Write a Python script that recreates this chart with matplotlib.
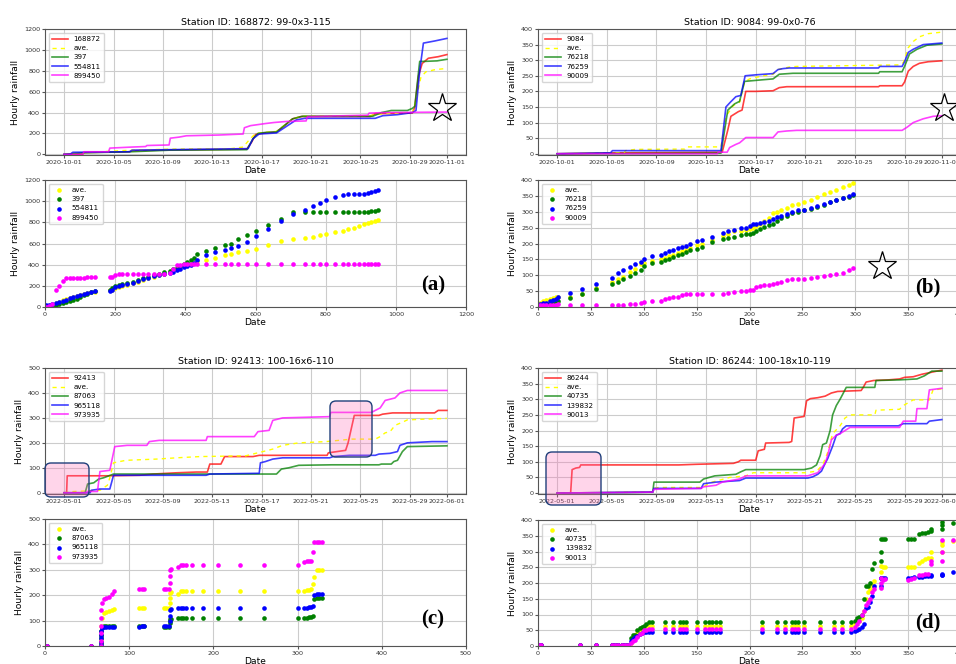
import matplotlib.pyplot as plt
import matplotlib.dates as mdates
from matplotlib.patches import FancyBboxPatch
from matplotlib.lines import Line2D
from matplotlib.transforms import IdentityTransform
import numpy as np
import pandas as pd

W, H = 956, 664

# ------------------------- (a) 168872, Oct 2020 -------------------------
a_days_168872 = [0, 1.5, 1.6, 5.3, 5.5, 8.5, 14.8, 15.2, 15.5, 16.2, 17.2, 17.8, 18.5, 19.2, 24.8, 25.2, 28.2, 28.4, 28.7, 29.0, 29.5, 30.3, 31]
a_vals_168872 = [0, 2, 18, 25, 35, 42, 50, 120, 190, 205, 215, 270, 340, 362, 362, 390, 395, 450, 750, 870, 920, 935, 955]
a_days_ave = [0, 1.5, 3.7, 5.4, 8.5, 13.5, 14.5, 15.0, 15.5, 16.2, 17.2, 18.5, 19.3, 24.7, 25.5, 28.2, 28.5, 28.9, 29.3, 30, 31]
a_vals_ave = [0, 15, 30, 40, 50, 55, 70, 140, 200, 210, 220, 340, 365, 370, 385, 400, 520, 740, 790, 810, 823]
a_days_397 = [0, 1.5, 5.4, 8.5, 14.8, 15.3, 15.7, 16.3, 17.2, 18.5, 19.3, 25.0, 25.7, 26.5, 27.8, 28.2, 28.4, 28.8, 29.2, 30.2, 31]
a_vals_397 = [0, 15, 25, 40, 45, 150, 200, 210, 215, 340, 365, 365, 400, 420, 420, 440, 460, 890, 890, 895, 910]
a_days_554811 = [0, 0.5, 0.7, 5.3, 5.5, 8.5, 14.9, 15.3, 15.8, 17.2, 18.8, 19.5, 25.2, 25.8, 27.0, 28.2, 28.5, 28.8, 29.1, 30, 31]
a_vals_554811 = [0, 2, 20, 25, 40, 45, 55, 150, 195, 205, 330, 345, 345, 370, 380, 400, 420, 800, 1065, 1085, 1110]
a_days_899450 = [0, 1.5, 1.6, 3.6, 3.7, 5.5, 6.6, 6.7, 8.5, 8.6, 9.3, 9.9, 12.5, 14.5, 14.6, 15.1, 16.3, 17.0, 18.0, 19.6, 19.7, 22.0, 24.6, 24.7, 26, 31]
a_vals_899450 = [0, 0, 25, 25, 60, 70, 75, 85, 90, 155, 165, 178, 185, 195, 255, 275, 295, 305, 315, 320, 360, 368, 375, 395, 400, 405]

# scatter: other stations vs 168872
sa_x = [3, 10, 20, 30, 40, 50, 60, 70, 80, 90, 100, 110, 120, 130, 142, 185, 192, 200, 210, 220,
        235, 250, 265, 280, 295, 310, 325, 340, 355, 365, 375, 385, 395, 405, 415, 425, 432, 458, 484, 513,
        530, 549, 575, 600, 636, 674, 706, 741, 765, 784, 800, 826, 850, 865, 880, 895, 910, 920, 930, 940, 950]
sa_ave = [3, 10, 20, 35, 50, 65, 75, 85, 95, 105, 115, 122, 130, 138, 145, 160, 165, 175, 185, 195,
          210, 225, 240, 255, 270, 285, 300, 315, 330, 345, 360, 375, 385, 395, 405, 420, 430, 440, 465, 490,
          500, 515, 530, 550, 585, 620, 640, 650, 665, 680, 690, 710, 720, 735, 750, 770, 785, 795, 800, 812, 822]
sa_397 = [0, 3, 8, 15, 25, 35, 45, 55, 65, 80, 95, 110, 125, 140, 150, 160, 180, 200, 210, 220,
          230, 240, 255, 270, 285, 300, 315, 330, 340, 355, 370, 385, 405, 425, 445, 465, 500, 530, 560, 590,
          600, 645, 680, 715, 775, 835, 895, 895, 895, 895, 895, 895, 895, 895, 895, 895, 895, 900, 905, 910, 915]
sa_554811 = [20, 22, 25, 35, 45, 55, 70, 85, 95, 105, 115, 125, 135, 145, 150, 155, 165, 185, 195, 205,
             215, 230, 245, 260, 275, 290, 300, 310, 325, 335, 345, 360, 375, 390, 400, 420, 440, 490, 520, 540,
             555, 575, 610, 670, 740, 815, 880, 915, 950, 980, 1010, 1040, 1055, 1065, 1065, 1065, 1065, 1075, 1085, 1095, 1105]
sa_899450 = [0, 5, 30, 160, 195, 250, 270, 275, 275, 275, 278, 278, 280, 280, 280, 280, 285, 300, 310, 310,
             310, 310, 310, 310, 310, 310, 310, 315, 320, 360, 400, 400, 402, 405, 408] + [410] * 26

# ------------------------- (b) 9084, Oct 2020 -------------------------
b_days_9084 = [0, 5, 13.3, 13.75, 14.0, 14.6, 14.9, 15.2, 16.0, 17.4, 17.9, 18.5, 25.9, 26.0, 27.8, 28.0, 28.3, 28.7, 29.2, 29.9, 31]
b_vals_9084 = [0, 3, 5, 76, 120, 135, 140, 200, 200, 202, 212, 215, 215, 218, 218, 230, 265, 280, 290, 295, 298]
b_days_ave = [0, 5.4, 5.5, 6.3, 10.3, 10.4, 13.2, 13.6, 14.2, 14.7, 15.1, 15.5, 16.6, 17.4, 17.8, 18.7, 19.3, 27.6, 27.9, 28.3, 28.7, 29.2, 29.9, 31]
b_vals_ave = [0, 3, 10, 14, 15, 22, 22, 120, 155, 165, 230, 240, 250, 255, 270, 278, 280, 285, 292, 340, 360, 375, 385, 390]
b_days_76218 = [0, 13.2, 13.75, 14.3, 14.7, 15.1, 16.5, 17.4, 17.9, 19.0, 25.9, 26.0, 27.8, 28.0, 28.4, 29.0, 29.8, 31]
b_vals_76218 = [0, 2, 140, 160, 168, 232, 237, 240, 255, 258, 258, 263, 263, 280, 320, 335, 348, 352]
b_days_76259 = [0, 4.3, 4.45, 13.2, 13.6, 13.95, 14.4, 14.8, 15.15, 16.0, 17.4, 17.8, 18.2, 18.7, 25.9, 26.0, 27.8, 28.0, 28.3, 28.7, 29.5, 31]
b_vals_76259 = [0, 3, 10, 10, 150, 165, 183, 187, 250, 253, 257, 270, 273, 275, 275, 280, 280, 295, 325, 335, 350, 355]
b_days_90009 = [0, 12.9, 13.0, 13.7, 13.9, 14.4, 14.7, 15.0, 15.2, 17.4, 17.8, 18.5, 19.3, 27.8, 28.2, 28.7, 29.5, 30.3, 31]
b_vals_90009 = [0, 0, 5, 5, 20, 30, 35, 45, 52, 52, 70, 73, 75, 75, 85, 100, 112, 120, 122]

sb_x = [2, 5, 8, 11, 14, 17, 19, 30, 42, 55, 70, 76, 80, 87, 92, 97, 100, 108, 116, 120,
        124, 128, 132, 136, 140, 144, 150, 155, 165, 175, 180, 185, 192, 197, 200, 203, 206, 210, 214, 218,
        222, 226, 230, 235, 240, 246, 252, 258, 264, 270, 276, 282, 288, 294, 298]
sb_ave = [12, 20, 22, 25, 28, 30, 33, 33, 42, 60, 78, 88, 95, 110, 120, 135, 140, 145, 150, 155,
          160, 165, 170, 175, 180, 185, 195, 200, 210, 225, 230, 238, 240, 242, 245, 250, 255, 262, 270, 280,
          295, 300, 305, 312, 320, 325, 330, 338, 345, 355, 362, 370, 378, 385, 390]
sb_76218 = [5, 8, 10, 12, 15, 18, 20, 28, 40, 58, 72, 80, 88, 98, 107, 118, 130, 138, 142, 147,
            152, 158, 163, 168, 173, 178, 183, 190, 205, 215, 218, 222, 228, 230, 230, 232, 238, 245, 252, 258,
            262, 270, 280, 288, 296, 300, 305, 310, 315, 322, 330, 337, 343, 348, 352]
sb_76259 = [10, 12, 14, 18, 22, 26, 30, 45, 58, 73, 92, 107, 117, 127, 135, 143, 150, 160, 165, 170,
            175, 180, 185, 188, 192, 198, 207, 212, 222, 232, 238, 242, 248, 250, 255, 260, 262, 265, 268, 272,
            276, 282, 288, 292, 300, 305, 307, 312, 318, 325, 332, 338, 343, 350, 355]
sb_90009 = [5, 5, 5, 5, 5, 7, 8, 7, 7, 7, 7, 7, 7, 8, 10, 12, 15, 20, 20, 25,
            28, 30, 33, 38, 42, 42, 42, 42, 42, 42, 45, 48, 50, 50, 52, 55, 62, 65, 68, 70,
            73, 76, 80, 84, 87, 87, 88, 90, 93, 97, 100, 104, 108, 115, 122]

# ------------------------- (c) 92413, May 2022 -------------------------
c_days_92413 = [0, 0.2, 0.25, 3.7, 6.1, 7.2, 9.1, 10.7, 11.6, 11.8, 12.7, 13.0, 15.3, 15.8, 21.3, 21.4, 22.1, 22.8, 23.0, 23.5, 25.5, 25.8, 26.6, 30.0, 30.3, 31]
c_vals_92413 = [0, 0, 68, 68, 70, 75, 80, 83, 83, 115, 115, 145, 145, 150, 150, 160, 165, 170, 200, 310, 310, 315, 320, 320, 330, 330]
c_days_ave = [0, 0.75, 2.9, 3.5, 3.7, 4.0, 5.0, 7.5, 9.1, 11.0, 14.7, 16.1, 16.9, 17.7, 19.0, 21.2, 23.3, 25.2, 25.6, 26.0, 26.4, 26.8, 27.5, 27.8, 29.2, 31]
c_vals_ave = [0, 5, 10, 30, 60, 120, 130, 135, 140, 145, 148, 165, 175, 190, 200, 205, 215, 215, 225, 240, 245, 270, 285, 292, 295, 298]
c_days_87063 = [0, 1.7, 1.9, 2.4, 2.8, 3.2, 4.0, 17.2, 17.6, 18.2, 19.0, 21.7, 25.5, 25.7, 26.5, 26.7, 27.0, 27.4, 27.8, 31]
c_vals_87063 = [0, 0, 35, 40, 55, 60, 75, 75, 95, 100, 110, 112, 112, 115, 115, 125, 130, 165, 185, 188]
c_days_965118 = [0, 2.1, 2.2, 2.9, 3.7, 4.0, 11.5, 11.8, 15.8, 15.9, 16.3, 16.9, 17.7, 21.5, 21.8, 23.1, 25.2, 25.5, 26.4, 27.0, 27.2, 27.8, 29.8, 31]
c_vals_965118 = [0, 0, 10, 15, 15, 70, 70, 75, 78, 120, 125, 135, 140, 140, 145, 150, 150, 155, 158, 165, 190, 200, 205, 205]
c_days_973935 = [0, 1.8, 1.85, 2.7, 2.9, 3.7, 4.1, 5.1, 6.7, 6.9, 7.7, 11.5, 11.6, 15.4, 15.7, 16.6, 16.9, 17.7, 21.5, 21.6, 24.9, 25.2, 25.6, 26.0, 26.8, 27.2, 27.8, 31]
c_vals_973935 = [0, 0, 5, 5, 85, 90, 185, 190, 190, 205, 210, 210, 225, 225, 245, 250, 290, 300, 305, 322, 322, 330, 340, 370, 380, 400, 410, 410]

sc_x = [2, 55, 67, 67, 67, 67, 67, 67, 68, 70, 73, 76, 79, 82, 112, 115, 118, 141, 144, 147,
        149, 149, 149, 150, 158, 161, 164, 168, 175, 188, 205, 232, 260, 300, 308, 311, 314, 316, 318, 320,
        323, 326, 329]
sc_ave = [0, 0, 0, 10, 25, 40, 60, 80, 110, 130, 135, 138, 142, 145, 148, 148, 148, 148, 148, 148,
          170, 190, 210, 212, 205, 215, 215, 215, 215, 215, 215, 215, 215, 215, 218, 220, 222, 225, 245, 270,
          298, 298, 298]
sc_87063 = [0, 0, 0, 5, 15, 30, 45, 60, 75, 80, 80, 80, 80, 80, 80, 80, 80, 75, 75, 75,
            90, 100, 105, 108, 112, 112, 112, 112, 112, 112, 112, 112, 112, 112, 112, 112, 115, 115, 120, 185,
            188, 188, 188]
sc_965118 = [0, 0, 0, 5, 15, 30, 45, 60, 70, 75, 75, 75, 75, 75, 75, 78, 80, 80, 80, 80,
             100, 120, 140, 145, 150, 150, 150, 150, 150, 150, 150, 150, 150, 150, 150, 150, 152, 155, 158, 200,
             205, 205, 205]
sc_973935 = [0, 0, 0, 20, 50, 80, 110, 140, 170, 185, 190, 192, 205, 215, 225, 225, 225, 225, 225, 225,
             250, 275, 298, 305, 310, 320, 320, 320, 320, 320, 320, 320, 320, 320, 330, 335, 335, 335, 370, 410,
             410, 410, 410]

# ------------------------- (d) 86244, May 2022 -------------------------
d_days_86244 = [0, 1.08, 1.2, 1.5, 1.8, 1.9, 9.8, 11.2, 14.2, 14.6, 14.8, 16.0, 16.2, 16.7, 16.8, 18.7, 18.9, 19.1, 19.9, 20.1, 20.4, 21.0, 21.6, 22.1, 22.6, 24.5, 24.7, 24.9, 25.5, 26.7, 27.6, 28.0, 28.7, 29.4, 30.0, 30.6, 31]
d_vals_86244 = [0, 0, 75, 80, 82, 90, 90, 92, 95, 100, 105, 105, 135, 140, 160, 162, 165, 240, 245, 295, 302, 305, 310, 320, 325, 328, 340, 355, 360, 362, 365, 370, 372, 380, 385, 390, 393]
d_days_ave = [0, 7.7, 7.8, 8.2, 11.7, 12.0, 12.5, 13.9, 15.2, 15.8, 20.0, 20.9, 21.4, 21.8, 22.2, 22.8, 23.2, 23.6, 25.6, 25.7, 27.6, 27.9, 28.7, 30.0, 30.3, 31]
d_vals_ave = [0, 3, 15, 18, 18, 25, 35, 50, 55, 65, 65, 70, 90, 130, 190, 215, 240, 250, 250, 265, 268, 280, 298, 298, 330, 333]
d_days_40735 = [0, 7.7, 7.8, 11.5, 11.8, 12.7, 14.4, 14.8, 15.2, 19.9, 20.5, 20.9, 21.2, 21.4, 21.7, 22.0, 22.2, 22.5, 22.8, 23.0, 23.3, 25.6, 25.7, 27.6, 29.0, 29.6, 30.2, 31]
d_vals_40735 = [0, 3, 35, 35, 45, 55, 60, 68, 75, 75, 80, 90, 120, 155, 160, 200, 250, 280, 300, 315, 338, 338, 360, 362, 365, 375, 390, 390]
d_days_139832 = [0, 7.7, 7.8, 11.6, 11.8, 12.8, 14.7, 15.2, 20.2, 20.6, 21.0, 21.3, 21.6, 21.8, 22.2, 22.5, 22.8, 23.0, 23.3, 27.5, 27.9, 29.8, 30.0, 31]
d_vals_139832 = [0, 3, 15, 15, 30, 35, 40, 48, 48, 52, 60, 70, 95, 110, 150, 185, 190, 205, 215, 215, 222, 222, 230, 235]
d_days_90013 = [0, 7.7, 7.8, 11.6, 11.8, 12.8, 13.3, 14.7, 15.2, 20.2, 20.6, 21.0, 21.6, 21.8, 22.1, 22.5, 22.8, 23.2, 23.6, 27.6, 27.9, 28.9, 29.0, 29.8, 30.0, 31]
d_vals_90013 = [0, 3, 12, 15, 20, 25, 35, 45, 55, 55, 60, 65, 95, 120, 170, 185, 190, 200, 210, 210, 230, 230, 270, 270, 330, 335]

sd_x = [1, 3, 40, 55, 70, 73, 76, 79, 82, 85, 88, 90, 92, 94, 96, 98, 100, 102, 105, 108,
        120, 128, 134, 137, 140, 150, 158, 162, 165, 168, 172, 212, 226, 234, 240, 243, 246, 252, 267, 280,
        287, 296, 300, 302, 304, 306, 308, 310, 312, 314, 316, 318, 324, 324, 324, 326, 328, 350, 353, 356,
        360, 363, 366, 369, 372, 372, 382, 382, 382, 392]
sd_ave = [3] * 10 + [10, 25, 35, 40, 45, 50, 55, 60, 63, 65] + [65] * 22 + \
         [70, 75, 80, 90, 110, 150, 170, 180, 195, 205, 215, 235, 255, 250, 252, 250, 250, 252,
          265, 270, 275, 278, 280, 298, 300, 320, 330, 332]
sd_40735 = [3] * 10 + [25, 35, 35, 50, 58, 60, 65, 70, 75, 75] + [75] * 22 + \
           [80, 88, 92, 100, 150, 190, 190, 200, 245, 265, 270, 300, 340, 340, 340, 340, 340, 340,
            355, 358, 360, 362, 365, 372, 370, 385, 395, 392]
sd_139832 = [3] * 10 + [15, 22, 28, 33, 38, 40, 43, 45, 45, 45] + [45] * 22 + \
            [48, 50, 55, 60, 70, 120, 125, 140, 160, 190, 190, 215, 215, 215, 215, 215, 215, 218,
             220, 220, 222, 222, 222, 225, 225, 225, 230, 235]
sd_90013 = [3] * 10 + [10, 15, 20, 30, 38, 42, 50, 52, 55, 55] + [55] * 22 + \
           [60, 70, 80, 100, 110, 130, 140, 150, 170, 180, 185, 200, 215, 210, 212, 210, 212, 215,
            225, 225, 228, 230, 270, 260, 270, 300, 335, 335]

fig = plt.figure(figsize=(W / 100, H / 100), dpi=100)


def rect(x0, y0, x1, y1):
    # pixel box -> figure fraction
    return [x0 / W, 1 - y1 / H, (x1 - x0) / W, (y1 - y0) / H]


def style(ax):
    ax.grid(True, color='#cccccc', lw=0.8)
    ax.set_axisbelow(True)
    ax.tick_params(labelsize=4.6, length=2, pad=1.5, labelcolor='#333333', color='#555555')
    for s in ax.spines.values():
        s.set_color('#555555')
        s.set_linewidth(0.8)
    ax.set_xlabel('Date', fontsize=6.6, labelpad=1)
    ax.set_ylabel('Hourly rainfall', fontsize=6.6, labelpad=3)


def top_panel(r, start, title, series, ymin, ymax, ystep):
    ax = fig.add_axes(r)
    t0 = pd.Timestamp(start)
    for lab, d, v, col, ls in series:
        t = t0 + pd.to_timedelta(np.array(d), unit='D')
        if ls == '--':
            ax.plot(t, v, color=col, ls=(0, (3, 3)), lw=1.0, label=lab)
        else:
            ax.plot(t, v, color=col, lw=1.2, alpha=0.75, label=lab)
    ax.set_ylim(ymin, ymax)
    ax.set_yticks(np.arange(0, ymax + 1, ystep))
    ax.xaxis.set_major_locator(mdates.DayLocator(bymonthday=[1, 5, 9, 13, 17, 21, 25, 29]))
    ax.xaxis.set_major_formatter(mdates.DateFormatter('%Y-%m-%d'))
    ax.set_title(title, fontsize=6.8, pad=3)
    style(ax)
    ax.legend(loc='upper left', fontsize=5.1, handlelength=2.2, borderpad=0.5, labelspacing=0.45)
    return ax


def bottom_panel(r, x, series, lim, step):
    ax = fig.add_axes(r)
    for lab, y, col in series:
        ax.scatter(x, y, s=11, color=col, linewidths=0, label=lab)
    ax.set_xlim(0, lim)
    ax.set_ylim(0, lim)
    ax.set_xticks(np.arange(0, lim + 1, step))
    ax.set_yticks(np.arange(0, lim + 1, step))
    style(ax)
    ax.legend(loc='upper left', fontsize=5.1, borderpad=0.5, labelspacing=0.45, handletextpad=0.8)
    return ax


top_panel(rect(45, 29, 466, 155), '2020-10-01', 'Station ID: 168872: 99-0x3-115', [
    ('168872', a_days_168872, a_vals_168872, 'red', '-'),
    ('ave.', a_days_ave, a_vals_ave, 'yellow', '--'),
    ('397', a_days_397, a_vals_397, 'green', '-'),
    ('554811', a_days_554811, a_vals_554811, 'blue', '-'),
    ('899450', a_days_899450, a_vals_899450, 'magenta', '-')], -6, 1200, 200)
bottom_panel(rect(45, 180, 466, 307), sa_x, [
    ('ave.', sa_ave, 'yellow'), ('397', sa_397, 'green'),
    ('554811', sa_554811, 'blue'), ('899450', sa_899450, 'magenta')], 1200, 200)

top_panel(rect(538, 29, 961, 155), '2020-10-01', 'Station ID: 9084: 99-0x0-76', [
    ('9084', b_days_9084, b_vals_9084, 'red', '-'),
    ('ave.', b_days_ave, b_vals_ave, 'yellow', '--'),
    ('76218', b_days_76218, b_vals_76218, 'green', '-'),
    ('76259', b_days_76259, b_vals_76259, 'blue', '-'),
    ('90009', b_days_90009, b_vals_90009, 'magenta', '-')], -4, 400, 50)
bottom_panel(rect(538, 180, 961, 307), sb_x, [
    ('ave.', sb_ave, 'yellow'), ('76218', sb_76218, 'green'),
    ('76259', sb_76259, 'blue'), ('90009', sb_90009, 'magenta')], 400, 50)

top_panel(rect(45, 368, 466, 494), '2022-05-01', 'Station ID: 92413: 100-16x6-110', [
    ('92413', c_days_92413, c_vals_92413, 'red', '-'),
    ('ave.', c_days_ave, c_vals_ave, 'yellow', '--'),
    ('87063', c_days_87063, c_vals_87063, 'green', '-'),
    ('965118', c_days_965118, c_vals_965118, 'blue', '-'),
    ('973935', c_days_973935, c_vals_973935, 'magenta', '-')], -5, 500, 100)
bottom_panel(rect(45, 519, 466, 646), sc_x, [
    ('ave.', sc_ave, 'yellow'), ('87063', sc_87063, 'green'),
    ('965118', sc_965118, 'blue'), ('973935', sc_973935, 'magenta')], 500, 100)

top_panel(rect(538, 368, 961, 494), '2022-05-01', 'Station ID: 86244: 100-18x10-119', [
    ('86244', d_days_86244, d_vals_86244, 'red', '-'),
    ('ave.', d_days_ave, d_vals_ave, 'yellow', '--'),
    ('40735', d_days_40735, d_vals_40735, 'green', '-'),
    ('139832', d_days_139832, d_vals_139832, 'blue', '-'),
    ('90013', d_days_90013, d_vals_90013, 'magenta', '-')], -3, 400, 50)
bottom_panel(rect(538, 520, 961, 646), sd_x, [
    ('ave.', sd_ave, 'yellow'), ('40735', sd_40735, 'green'),
    ('139832', sd_139832, 'blue'), ('90013', sd_90013, 'magenta')], 400, 50)

# highlight boxes (pixel coords: left, top, right, bottom)
for x0, y0, x1, y1 in [(45, 463, 89, 497), (330, 401, 372, 457), (546, 452, 601, 505)]:
    fig.add_artist(FancyBboxPatch((x0, H - y1), x1 - x0, y1 - y0,
                                  boxstyle='round,pad=0,rounding_size=6',
                                  facecolor=(1.0, 0.41, 0.71, 0.28), edgecolor='#1f3f7a',
                                  lw=1.0, transform=IdentityTransform(), zorder=5))

# stars
for sx, sy in [(442, 108), (944, 108), (882, 266)]:
    fig.add_artist(Line2D([sx], [H - sy], marker='*', ms=21, mfc='none', mec='black',
                          mew=0.9, transform=IdentityTransform(), zorder=6))

# panel letters
for lab, lx, ly in [('(a)', 433, 285), ('(b)', 928, 287), ('(c)', 433, 619), ('(d)', 928, 622)]:
    fig.text(lx / W, 1 - ly / H, lab, family='Liberation Serif', fontweight='bold',
             fontsize=15, ha='center', va='center')

fig.savefig('out.png', dpi=100)
